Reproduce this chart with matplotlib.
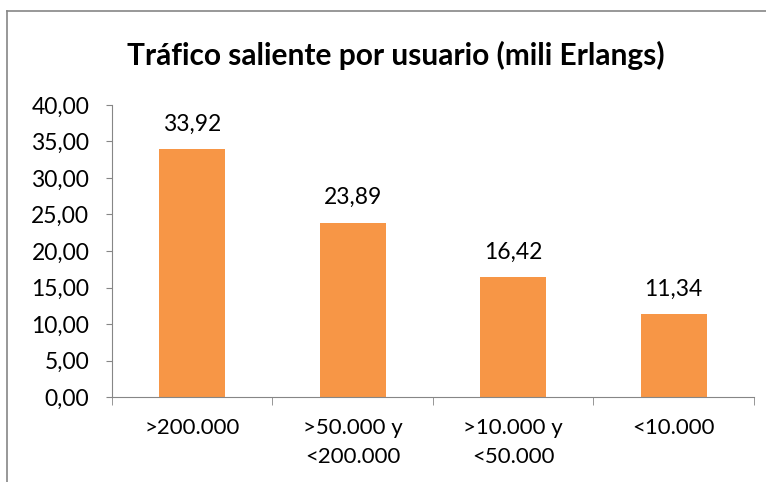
import matplotlib.pyplot as plt
from matplotlib.lines import Line2D

plt.rcParams['font.family'] = ['Lato', 'DejaVu Sans']

categorias = ['>200.000', '>50.000 y\n<200.000', '>10.000 y\n<50.000', '<10.000']
trafico = [33.92, 23.89, 16.42, 11.34]
etiquetas = ['33,92', '23,89', '16,42', '11,34']
ticks_y = [0, 5, 10, 15, 20, 25, 30, 35, 40]

gris = '#868686'
naranja = '#F79646'

fig = plt.figure(figsize=(7.66, 4.82), dpi=100)
ax = fig.add_axes([0.1462, 0.1763, 0.8381, 0.6059])

x = range(len(categorias))
ax.bar(x, trafico, width=0.41, color=naranja, zorder=2)

# etiquetas de datos encima de cada barra
for xi, v, t in zip(x, trafico, etiquetas):
    ax.annotate(t, (xi, v), xytext=(0, 18), textcoords='offset points',
                ha='center', va='center', fontsize=16.5)

ax.set_xlim(-0.5, len(categorias) - 0.5)
ax.set_ylim(0, 40)
ax.set_yticks(ticks_y)
ax.set_yticklabels(['%d,00' % t for t in ticks_y], fontsize=16.5)
ax.set_xticks(list(x))
ax.set_xticklabels(categorias, fontsize=16, linespacing=1.6)
ax.tick_params(axis='x', length=0, pad=15)
ax.tick_params(axis='y', length=4.3, color=gris, pad=12)

# marcas del eje x entre categorias
ax.set_xticks([i - 0.5 for i in range(len(categorias) + 1)], minor=True)
ax.tick_params(axis='x', which='minor', length=6, color=gris)

for lado in ['top', 'right']:
    ax.spines[lado].set_visible(False)
for lado in ['left', 'bottom']:
    ax.spines[lado].set_color(gris)

# borde del grafico (recortado)
fig.add_artist(Line2D([7 / 766, 1], [1 - 11 / 482, 1 - 11 / 482], color=gris, lw=1.2))
fig.add_artist(Line2D([7 / 766, 7 / 766], [0, 1 - 11 / 482], color=gris, lw=1.2))

fig.text(396 / 766, 1 - 55 / 482, 'Tráfico saliente por usuario (mili Erlangs)',
         ha='center', va='center', fontsize=21.5, fontweight='bold')

fig.savefig('out.png', dpi=100)
